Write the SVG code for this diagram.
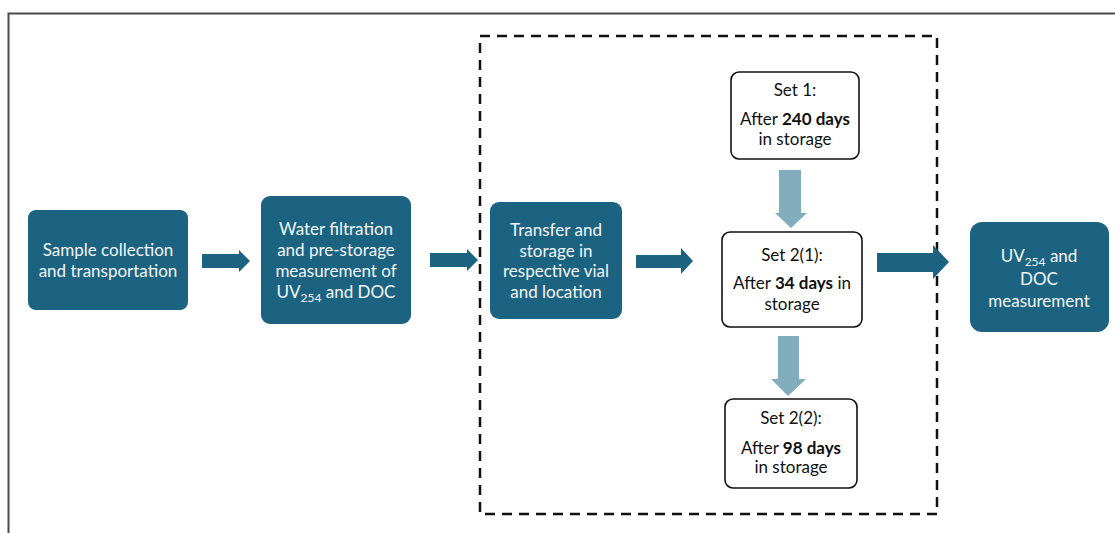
<svg xmlns="http://www.w3.org/2000/svg" width="1115" height="533" viewBox="0 0 1115 533">
<style>
.dark{fill:#1c6382}
.wbox{fill:#fff;stroke:#111;stroke-width:1.6}
.t{font-family:Lato,"Open Sans",sans-serif;font-size:17px;text-anchor:middle}
.tw{fill:#f2f6f8}
.tb{fill:#111}
.b{font-weight:bold}
.arr{fill:#1c6382}
.larr{fill:#82adbd}
</style>
<rect width="1115" height="533" fill="#fff"/>
<path d="M8.5 540 V13.5 H1120" fill="none" stroke="#4a4a4a" stroke-width="2"/>
<rect x="480" y="36" width="457" height="478" fill="none" stroke="#111" stroke-width="2.5" stroke-dasharray="10,7"/>
<g id="connectors">
<polygon class="arr" points="202,254 239,254 239,250 250,261 239,272 239,268 202,268"/>
<polygon class="arr" points="430,253 467,253 467,249 478,260 467,271 467,267 430,267"/>
<polygon class="arr" points="636,255 681,255 681,248 693,261 681,274 681,268 636,268"/>
<polygon class="arr" points="877,253 933,253 933,245 949,262 933,279 933,272 877,272"/>
<polygon class="larr" points="779,170 801,170 801,213 807,213 791,228 775,213 779,213"/>
<polygon class="larr" points="778,336 799,336 799,379 806,379 788,396 771,379 778,379"/>
</g>
<g id="n1">
<rect class="dark" x="28" y="210" width="160" height="100" rx="8"/>
<text class="t tw" x="108" y="256">Sample collection</text>
<text class="t tw" x="108" y="277">and transportation</text>
</g>
<g id="n2">
<rect class="dark" x="261" y="196" width="150" height="128" rx="9"/>
<text class="t tw" x="336" y="235">Water filtration</text>
<text class="t tw" x="336" y="256">and pre-storage</text>
<text class="t tw" x="336" y="277">measurement of</text>
<text class="t tw" x="336" y="298">UV<tspan font-size="12" dy="4">254</tspan><tspan dy="-4"> and DOC</tspan></text>
</g>
<g id="n3">
<rect class="dark" x="490" y="202" width="132" height="117" rx="9"/>
<text class="t tw" x="556" y="236">Transfer and</text>
<text class="t tw" x="556" y="257">storage in</text>
<text class="t tw" x="556" y="277">respective vial</text>
<text class="t tw" x="556" y="298">and location</text>
</g>
<g id="n4">
<rect class="wbox" x="731" y="72" width="128" height="87" rx="8"/>
<text class="t tb" x="795" y="96">Set 1:</text>
<text class="t tb" x="795" y="125">After <tspan class="b">240 days</tspan></text>
<text class="t tb" x="795" y="145">in storage</text>
</g>
<g id="n5">
<rect class="wbox" x="722" y="232" width="140" height="95" rx="8"/>
<text class="t tb" x="792" y="261">Set 2(1):</text>
<text class="t tb" x="792" y="289">After <tspan class="b">34 days</tspan> in</text>
<text class="t tb" x="792" y="310">storage</text>
</g>
<g id="n6">
<rect class="wbox" x="725" y="399" width="132" height="89" rx="8"/>
<text class="t tb" x="791" y="424">Set 2(2):</text>
<text class="t tb" x="791" y="454">After <tspan class="b">98 days</tspan></text>
<text class="t tb" x="791" y="473">in storage</text>
</g>
<g id="n7">
<rect class="dark" x="970" y="222" width="139" height="110" rx="12"/>
<text class="t tw" x="1039" y="262">UV<tspan font-size="12" dy="4">254</tspan><tspan dy="-4"> and</tspan></text>
<text class="t tw" x="1039" y="285">DOC</text>
<text class="t tw" x="1039" y="307">measurement</text>
</g>
</svg>
